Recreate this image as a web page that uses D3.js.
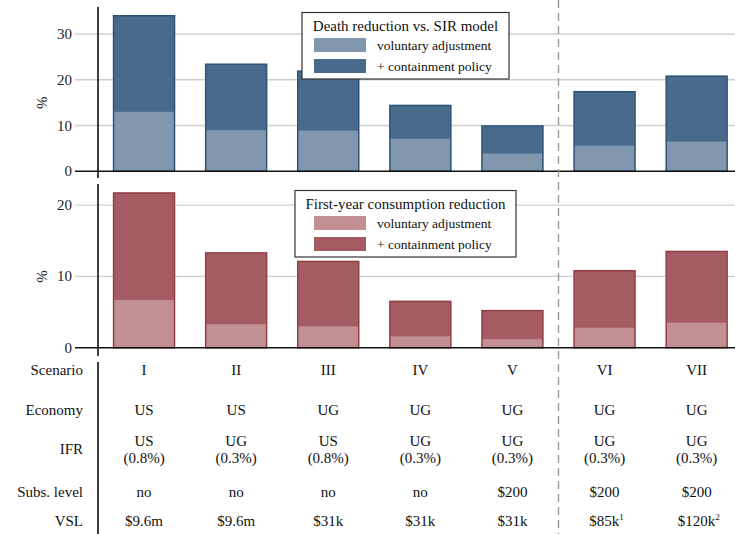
<!DOCTYPE html>
<html>
<head>
<meta charset="utf-8">
<script src="https://cdn.jsdelivr.net/npm/d3@7"></script>
<style>
  html, body { margin: 0; padding: 0; background: #fff; }
  svg { display: block; }
  svg text { font-family: 'Liberation Serif', 'Times New Roman', Times, serif; }
</style>
</head>
<body>
<svg id="chart" width="735" height="534" font-family="Liberation Serif, Times New Roman, serif"></svg>
<script>
// Scenarios and results (percent)
const scenarios = ["I", "II", "III", "IV", "V", "VI", "VII"];
const deathTotal = [34.0, 23.4, 21.9, 14.4, 9.9, 17.4, 20.8];
const deathVoluntary = [13.0, 9.0, 8.9, 7.1, 3.9, 5.6, 6.5];
const consTotal = [21.7, 13.3, 12.1, 6.5, 5.2, 10.8, 13.5];
const consVoluntary = [6.7, 3.3, 3.0, 1.6, 1.2, 2.8, 3.5];

const deathTicks = [0, 10, 20, 30];
const consTicks = [0, 10, 20];

// Table rows below the panels
const economy = ["US", "US", "UG", "UG", "UG", "UG", "UG"];
const ifrRegion = ["US", "UG", "US", "UG", "UG", "UG", "UG"];
const ifrRate = ["(0.8%)", "(0.3%)", "(0.8%)", "(0.3%)", "(0.3%)", "(0.3%)", "(0.3%)"];
const subsLevel = ["no", "no", "no", "no", "$200", "$200", "$200"];
const vsl = ["$9.6m", "$9.6m", "$31k", "$31k", "$31k", "$85k", "$120k"];
const vslNote = ["", "", "", "", "", "1", "2"];

const FONT = "'Liberation Serif', 'Times New Roman', Times, serif";
const svg = d3.select("#chart");
const W = 735, H = 534;
const axisX = 98;

const x = d3.scaleBand()
  .domain(scenarios)
  .range([axisX, 742.7])
  .paddingInner(0.338)
  .paddingOuter(0.169);

const panels = [
  {
    total: deathTotal, vol: deathVoluntary, ticks: deathTicks,
    y: d3.scaleLinear().domain([0, 36]).range([171.3, 6.6]),
    axisTop: 7, axisBottom: 178,
    dark: "#486b8c", light: "#8097ad", edge: "#2c5479",
    legend: { x: 302, y: 12.5, w: 207, h: 66.5, title: "Death reduction vs. SIR model" }
  },
  {
    total: consTotal, vol: consVoluntary, ticks: consTicks,
    y: d3.scaleLinear().domain([0, 23]).range([347.7, 183.7]),
    axisTop: 184, axisBottom: 356,
    dark: "#a45c62", light: "#c28f92", edge: "#923f48",
    legend: { x: 295, y: 190.5, w: 221, h: 66.5, title: "First-year consumption reduction" }
  }
];

panels.forEach(p => {
  const g = svg.append("g").attr("font-family", FONT);
  const y = p.y;
  const y0 = y(0);

  // gridlines and ticks
  g.selectAll("line.grid")
    .data(p.ticks.filter(t => t > 0))
    .join("line")
    .attr("x1", 75).attr("x2", W)
    .attr("y1", d => y(d)).attr("y2", d => y(d))
    .attr("stroke", "#cfcfcf").attr("stroke-width", 1.4);

  // tick labels
  g.selectAll("text.tick")
    .data(p.ticks)
    .join("text")
    .attr("x", 72).attr("y", d => y(d))
    .attr("text-anchor", "end")
    .attr("dominant-baseline", "central")
    .attr("font-size", 15).attr("fill", "#222")
    .text(d => d);

  // y axis title
  const midY = (y(p.ticks[p.ticks.length - 1]) + y0) / 2;
  g.append("text")
    .attr("transform", `translate(47,${midY}) rotate(-90)`)
    .attr("text-anchor", "middle")
    .attr("font-size", 15).attr("fill", "#222")
    .text("%");

  // bars
  const idx = d3.range(scenarios.length);
  g.selectAll("rect.total").data(idx).join("rect")
    .attr("x", i => x(scenarios[i])).attr("width", x.bandwidth())
    .attr("y", i => y(p.total[i])).attr("height", i => y0 - y(p.total[i]))
    .attr("fill", p.dark);
  g.selectAll("rect.vol").data(idx).join("rect")
    .attr("x", i => x(scenarios[i])).attr("width", x.bandwidth())
    .attr("y", i => y(p.vol[i])).attr("height", i => y0 - y(p.vol[i]))
    .attr("fill", p.light);
  g.selectAll("rect.outline").data(idx).join("rect")
    .attr("x", i => x(scenarios[i])).attr("width", x.bandwidth())
    .attr("y", i => y(p.total[i])).attr("height", i => y0 - y(p.total[i]))
    .attr("fill", "none").attr("stroke", p.edge).attr("stroke-width", 1.5);

  // zero line
  g.append("line")
    .attr("x1", 75).attr("x2", W).attr("y1", y0).attr("y2", y0)
    .attr("stroke", "#111").attr("stroke-width", 1.5);

  // y axis line
  g.append("line")
    .attr("x1", axisX).attr("x2", axisX)
    .attr("y1", p.axisTop).attr("y2", p.axisBottom)
    .attr("stroke", "#000").attr("stroke-width", 1.5);

  // legend
  const L = p.legend;
  const lg = g.append("g").attr("transform", `translate(${L.x},${L.y})`);
  lg.append("rect")
    .attr("width", L.w).attr("height", L.h)
    .attr("fill", "#fff").attr("stroke", "#333").attr("stroke-width", 1.2);
  lg.append("text")
    .attr("x", L.w / 2).attr("y", 18)
    .attr("text-anchor", "middle").attr("font-size", 15).attr("fill", "#111")
    .text(L.title);
  const items = [
    { label: "voluntary adjustment", color: p.light },
    { label: "+ containment policy", color: p.dark }
  ];
  const swX = 314 - L.x;
  items.forEach((it, k) => {
    const sy = 25.5 + k * 21;
    lg.append("rect")
      .attr("x", swX).attr("y", sy).attr("width", 52).attr("height", 14)
      .attr("fill", it.color);
    lg.append("text")
      .attr("x", swX + 63).attr("y", sy + 11.5)
      .attr("font-size", 13.5).attr("fill", "#111")
      .text(it.label);
  });
});

// axis line alongside the table
svg.append("line")
  .attr("x1", axisX).attr("x2", axisX).attr("y1", 362).attr("y2", H)
  .attr("stroke", "#000").attr("stroke-width", 1.5);

// dashed separator between scenario groups
const sepX = (x("V") + x.bandwidth() + x("VI")) / 2;
svg.append("line")
  .attr("x1", sepX).attr("x2", sepX).attr("y1", 0).attr("y2", H)
  .attr("stroke", "#9a9a9a").attr("stroke-width", 1.4)
  .attr("stroke-dasharray", "8,5");

// table
const tbl = svg.append("g").attr("font-size", 15).attr("fill", "#111").attr("font-family", FONT);
const rowLabels = [
  { text: "Scenario", y: 375 },
  { text: "Economy", y: 415 },
  { text: "IFR", y: 454 },
  { text: "Subs. level", y: 496.5 },
  { text: "VSL", y: 526 }
];
tbl.selectAll("text.rowlab").data(rowLabels).join("text")
  .attr("x", 83).attr("y", d => d.y)
  .attr("text-anchor", "end")
  .text(d => d.text);

const cx = s => x(s) + x.bandwidth() / 2;
function row(values, yPos) {
  tbl.append("g").selectAll("text").data(values).join("text")
    .attr("x", (d, i) => cx(scenarios[i])).attr("y", yPos)
    .attr("text-anchor", "middle")
    .text(d => d);
}
row(scenarios, 375);
row(economy, 415);
row(ifrRegion, 445.5);
row(ifrRate, 462.5);
row(subsLevel, 496.5);

tbl.append("g").selectAll("text").data(vsl).join("text")
  .attr("x", (d, i) => cx(scenarios[i]) + (vslNote[i] ? 2 : 0)).attr("y", 526)
  .attr("text-anchor", "middle")
  .each(function(d, i) {
    const t = d3.select(this);
    t.append("tspan").text(d);
    if (vslNote[i]) {
      t.append("tspan").attr("font-size", 9).attr("dy", -6).text(vslNote[i]);
    }
  });
</script>
</body>
</html>
